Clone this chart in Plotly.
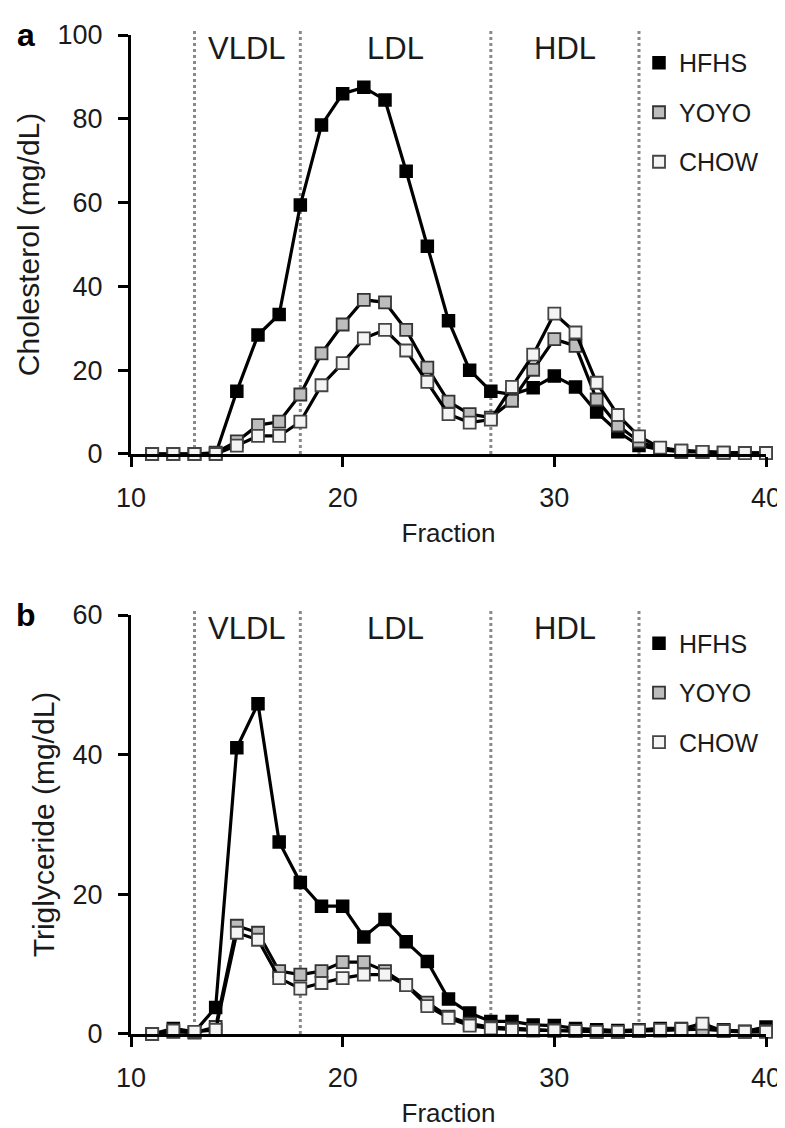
import plotly.graph_objects as go
from plotly.subplots import make_subplots

# ---------------- data ----------------
fractions = list(range(11, 41))

chol_hfhs = [0, 0, 0, 0, 15, 28.4, 33.3, 59.4, 78.5, 86, 87.5, 84.5, 67.5, 49.6, 31.8,
             20, 15, 14.2, 15.8, 18.6, 16, 10, 5.3, 2, 1, 0.5, 0.5, 0.3, 0.2, 0.2]
chol_yoyo = [0, 0, 0, 0.3, 3, 6.9, 7.7, 14.2, 24, 30.9, 36.8, 36.2, 29.6, 20.6, 12.5,
             9.5, 8.7, 12.7, 20.1, 27.4, 25.8, 13, 6.8, 3, 1.2, 0.8, 0.5, 0.3, 0.2, 0.2]
chol_chow = [0, 0, 0, 0, 2, 4.3, 4.3, 7.7, 16.4, 21.7, 27.6, 29.6, 24.7, 17.2, 9.5,
             7.5, 8.2, 16, 23.7, 33.5, 29, 17, 9.3, 4.2, 1.5, 0.8, 0.5, 0.3, 0.2, 0.2]

tg_hfhs = [0, 0.8, 0.3, 3.8, 41, 47.3, 27.5, 21.7, 18.3, 18.3, 13.9, 16.4, 13.2, 10.4, 5,
           3, 1.8, 1.8, 1.3, 1.2, 0.8, 0.6, 0.5, 0.6, 0.8, 0.8, 0.7, 0.6, 0.4, 1.0]
tg_yoyo = [0, 0.3, 0.2, 1, 15.5, 14.5, 9, 8.5, 9, 10.3, 10.3, 9, 7, 4.5, 2.5,
           1.5, 1, 0.8, 0.6, 0.5, 0.4, 0.3, 0.3, 0.4, 0.5, 0.6, 0.7, 0.5, 0.3, 0.4]
tg_chow = [0, 0.5, 0.3, 0.6, 14.5, 13.5, 8, 6.5, 7.3, 8, 8.5, 8.5, 7, 4, 2.3,
           1.2, 0.8, 0.6, 0.5, 0.5, 0.4, 0.3, 0.3, 0.5, 0.6, 0.7, 1.5, 0.4, 0.3, 0.3]

series_names = ["HFHS", "YOYO", "CHOW"]
region_bounds = [13, 18, 27, 34]
region_labels = ["VLDL", "LDL", "HDL"]
panel_letters = ["a", "b"]
y_titles = ["Cholesterol (mg/dL)", "Triglyceride (mg/dL)"]
y_max = [100, 60]
x_title = "Fraction"

# ---------------- styles ----------------
FONT = "Liberation Sans, Arial, sans-serif"
styles = {
    "HFHS": dict(color="black", line=dict(color="black", width=1.5)),
    "YOYO": dict(color="#bdbdbd", line=dict(color="#333333", width=1.8)),
    "CHOW": dict(color="#f4f4f4", line=dict(color="#444444", width=1.8)),
}

fig = make_subplots(rows=2, cols=1, vertical_spacing=0.1612)

panels = [
    (1, [chol_hfhs, chol_yoyo, chol_chow], "legend"),
    (2, [tg_hfhs, tg_yoyo, tg_chow], "legend2"),
]

for row, data, leg in panels:
    for name, vals in zip(series_names, data):
        fig.add_trace(go.Scatter(
            x=fractions, y=vals, mode="lines+markers", name=name,
            line=dict(color="black", width=3.2),
            marker=dict(symbol="square", size=12, **styles[name]),
            cliponaxis=False, showlegend=False,
        ), row=row, col=1)
    for i, name in enumerate(series_names):
        fig.add_trace(go.Scatter(
            x=[None], y=[None], mode="markers", name=name,
            marker=dict(symbol="square", size=12, **styles[name]),
            legend=leg, legendgroup=f"{leg}_{name}", showlegend=True,
        ), row=row, col=1)

# dotted region lines and labels
for row in (1, 2):
    xref = "x" if row == 1 else "x2"
    yref = "y" if row == 1 else "y2"
    for b in region_bounds:
        fig.add_shape(type="line", x0=b, x1=b, y0=0, y1=1.01,
                      xref=xref, yref=f"{yref} domain",
                      line=dict(color="#8a8a8a", width=3, dash="dot"), layer="below")
    for i, lab in enumerate(region_labels):
        xm = (region_bounds[i] + region_bounds[i + 1]) / 2
        fig.add_annotation(x=xm, y=0.968, xref=xref, yref=f"{yref} domain",
                           text=lab, showarrow=False,
                           font=dict(family=FONT, size=31, color="#1a1a1a"),
                           xanchor="center", yanchor="middle")
    fig.add_annotation(x=-0.165, y=1.0, xref="paper", yref=f"{yref} domain",
                       text=f"<b>{panel_letters[row-1]}</b>", showarrow=False,
                       font=dict(family=FONT, size=32, color="black"),
                       xanchor="center", yanchor="middle")

axis_common = dict(showline=True, linecolor="black", linewidth=3, ticks="outside",
                   ticklen=10, tickwidth=3, tickcolor="black", showgrid=False,
                   zeroline=False, mirror=False,
                   tickfont=dict(family=FONT, size=27, color="#1a1a1a"))

for row in (1, 2):
    fig.update_xaxes(range=[10, 40], dtick=10, tick0=10,
                     title=dict(text=x_title, font=dict(family=FONT, size=26, color="#1a1a1a"),
                                standoff=12),
                     ticklabelstandoff=8,
                     **axis_common, row=row, col=1)
    fig.update_yaxes(range=[0, y_max[row-1]], dtick=20, tick0=0,
                     title=dict(text=y_titles[row-1],
                                font=dict(family=FONT, size=30, color="#1a1a1a"),
                                standoff=10),
                     ticklabelstandoff=10,
                     **axis_common, row=row, col=1)

legend_common = dict(font=dict(family=FONT, size=25, color="#1a1a1a"),
                     bgcolor="rgba(0,0,0,0)", borderwidth=0, tracegroupgap=14,
                     traceorder="grouped", itemsizing="trace",
                     xanchor="left", yanchor="top")

fig.update_layout(
    width=785, height=1128,
    margin=dict(l=123, r=20, t=18, b=99),
    plot_bgcolor="white", paper_bgcolor="white",
    font=dict(family=FONT, color="#1a1a1a"),
    legend=dict(x=0.80, y=0.995, **legend_common),
    legend2=dict(x=0.80, y=0.414, **legend_common),
)

fig.write_html("out.html")
